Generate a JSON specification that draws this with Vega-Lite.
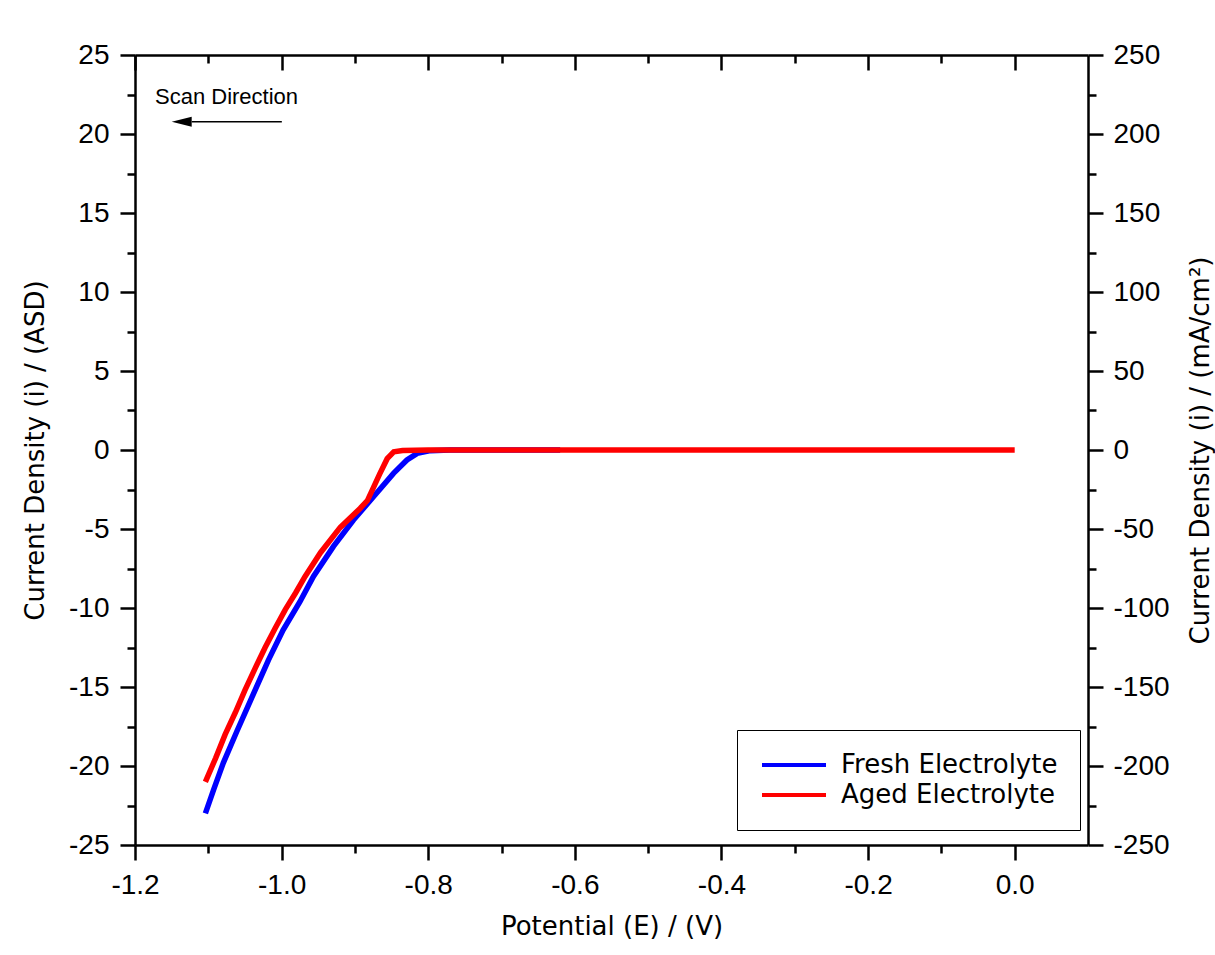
{
  "$schema": "https://vega.github.io/schema/vega-lite/v6.json",
  "width": 953,
  "height": 790,
  "autosize": "none",
  "padding": {"left": 135, "top": 55, "right": 127, "bottom": 110},
  "background": "white",
  "config": {
    "view": {"stroke": null},
    "axis": {
      "domainColor": "black", "tickColor": "black", "domainWidth": 2.5, "tickWidth": 2.5,
      "grid": false, "labelColor": "black", "titleColor": "black",
      "labelFont": "Liberation Sans", "labelFontSize": 28,
      "titleFont": "DejaVu Sans", "titleFontSize": 26, "titleFontWeight": "normal",
      "labelFlush": false, "labelOverlap": false, "labelBound": false
    }
  },
  "datasets": {
    "curves": [
      {"series": "Fresh Electrolyte", "E": -1.104, "i": -23.0},
      {"series": "Fresh Electrolyte", "E": -1.092, "i": -21.4},
      {"series": "Fresh Electrolyte", "E": -1.0795, "i": -19.8},
      {"series": "Fresh Electrolyte", "E": -1.061, "i": -17.8},
      {"series": "Fresh Electrolyte", "E": -1.041, "i": -15.7},
      {"series": "Fresh Electrolyte", "E": -1.018, "i": -13.3},
      {"series": "Fresh Electrolyte", "E": -0.998, "i": -11.4},
      {"series": "Fresh Electrolyte", "E": -0.975, "i": -9.6},
      {"series": "Fresh Electrolyte", "E": -0.9566, "i": -8.0},
      {"series": "Fresh Electrolyte", "E": -0.9293, "i": -6.1},
      {"series": "Fresh Electrolyte", "E": -0.902, "i": -4.43},
      {"series": "Fresh Electrolyte", "E": -0.8747, "i": -2.96},
      {"series": "Fresh Electrolyte", "E": -0.8474, "i": -1.48},
      {"series": "Fresh Electrolyte", "E": -0.829, "i": -0.63},
      {"series": "Fresh Electrolyte", "E": -0.815, "i": -0.21},
      {"series": "Fresh Electrolyte", "E": -0.797, "i": -0.04},
      {"series": "Fresh Electrolyte", "E": -0.77, "i": 0.0},
      {"series": "Fresh Electrolyte", "E": -0.62, "i": 0.0},
      {"series": "Aged Electrolyte", "E": -1.104, "i": -21.0},
      {"series": "Aged Electrolyte", "E": -1.09, "i": -19.5},
      {"series": "Aged Electrolyte", "E": -1.077, "i": -18.0},
      {"series": "Aged Electrolyte", "E": -1.063, "i": -16.6},
      {"series": "Aged Electrolyte", "E": -1.05, "i": -15.2},
      {"series": "Aged Electrolyte", "E": -1.036, "i": -13.8},
      {"series": "Aged Electrolyte", "E": -1.0225, "i": -12.5},
      {"series": "Aged Electrolyte", "E": -1.009, "i": -11.3},
      {"series": "Aged Electrolyte", "E": -0.995, "i": -10.1},
      {"series": "Aged Electrolyte", "E": -0.981, "i": -9.05},
      {"series": "Aged Electrolyte", "E": -0.968, "i": -8.0},
      {"series": "Aged Electrolyte", "E": -0.947, "i": -6.5},
      {"series": "Aged Electrolyte", "E": -0.92, "i": -4.9},
      {"series": "Aged Electrolyte", "E": -0.893, "i": -3.7},
      {"series": "Aged Electrolyte", "E": -0.883, "i": -3.2},
      {"series": "Aged Electrolyte", "E": -0.877, "i": -2.6},
      {"series": "Aged Electrolyte", "E": -0.866, "i": -1.5},
      {"series": "Aged Electrolyte", "E": -0.856, "i": -0.55},
      {"series": "Aged Electrolyte", "E": -0.847, "i": -0.12},
      {"series": "Aged Electrolyte", "E": -0.835, "i": -0.03},
      {"series": "Aged Electrolyte", "E": -0.8, "i": 0.0},
      {"series": "Aged Electrolyte", "E": -0.6, "i": 0.0},
      {"series": "Aged Electrolyte", "E": -0.4, "i": 0.0},
      {"series": "Aged Electrolyte", "E": -0.2, "i": 0.0},
      {"series": "Aged Electrolyte", "E": 0.0, "i": 0.0}
    ],
    "anchor": [{"E": -1.0, "i": 0}],
    "note": [{"E": -1.1727, "i": 21.9, "label": "Scan Direction"}],
    "arrow": [{"E": -1.1226, "E2": -0.9997, "i": 20.78}],
    "head": [{"E": -1.1363, "i": 20.78}]
  },
  "layer": [
    {
      "data": {"name": "curves"},
      "mark": {"type": "line", "strokeWidth": 5.5, "interpolate": "linear"},
      "encoding": {
        "x": {
          "field": "E", "type": "quantitative",
          "scale": {"domain": [-1.2, 0.1], "nice": false, "zero": false},
          "axis": {
            "orient": "bottom", "values": [-1.2, -1.0, -0.8, -0.6, -0.4, -0.2, 0.0],
            "labelExpr": "(datum.value < -0.0001 ? '-' : '') + format(abs(datum.value), '.1f')",
            "tickSize": 15, "labelPadding": 11, "domain": true,
            "title": "Potential (E) / (V)", "titlePadding": 14
          }
        },
        "y": {
          "field": "i", "type": "quantitative",
          "scale": {"domain": [-25, 25], "nice": false, "zero": false},
          "axis": {
            "orient": "left", "values": [-25, -20, -15, -10, -5, 0, 5, 10, 15, 20, 25],
            "labelExpr": "(datum.value < 0 ? '-' : '') + abs(datum.value)",
            "tickSize": 15, "labelPadding": 11, "domain": true,
            "title": "Current Density (i) / (ASD)", "titlePadding": 20
          }
        },
        "color": {
          "field": "series", "type": "nominal",
          "scale": {"domain": ["Fresh Electrolyte", "Aged Electrolyte"], "range": ["#0000ff", "#ff0000"]},
          "legend": {
            "orient": "none", "legendX": 602, "legendY": 675, "title": null,
            "symbolType": "M-1,0H5.4", "symbolSize": 400, "symbolStrokeWidth": 4,
            "labelFont": "DejaVu Sans", "labelFontSize": 26, "labelColor": "black", "labelLimit": 500,
            "labelOffset": 56, "strokeColor": "black", "fillColor": "white", "padding": 22,
            "rowPadding": 4
          }
        },
        "order": {"field": "series", "sort": "descending"}
      }
    },
    {
      "data": {"name": "anchor"},
      "mark": {"type": "point", "opacity": 0},
      "encoding": {
        "x": {"field": "E", "type": "quantitative",
          "axis": {"orient": "bottom", "values": [-1.1, -0.9, -0.7, -0.5, -0.3, -0.1], "tickSize": 8, "labels": false, "domain": false, "title": null}},
        "y": {"field": "i", "type": "quantitative",
          "axis": {"orient": "left", "values": [-22.5, -17.5, -12.5, -7.5, -2.5, 2.5, 7.5, 12.5, 17.5, 22.5], "tickSize": 8, "labels": false, "domain": false, "title": null}}
      }
    },
    {
      "data": {"name": "anchor"},
      "mark": {"type": "point", "opacity": 0},
      "encoding": {
        "x": {"field": "E", "type": "quantitative",
          "axis": {"orient": "top", "values": [-1.2, -1.0, -0.8, -0.6, -0.4, -0.2, 0.0], "tickSize": -15, "labels": false, "domain": true, "title": null}},
        "y": {"field": "i", "type": "quantitative",
          "axis": {
            "orient": "right", "values": [-25, -20, -15, -10, -5, 0, 5, 10, 15, 20, 25],
            "labelExpr": "(datum.value < 0 ? '-' : '') + abs(datum.value * 10)",
            "tickSize": 15, "labelPadding": 10, "domain": true,
            "title": "Current Density (i) / (mA/cm²)", "titleAngle": 270, "titlePadding": 44
          }}
      }
    },
    {
      "data": {"name": "anchor"},
      "mark": {"type": "point", "opacity": 0},
      "encoding": {
        "x": {"field": "E", "type": "quantitative",
          "axis": {"orient": "top", "values": [-1.1, -0.9, -0.7, -0.5, -0.3, -0.1], "tickSize": -8, "labels": false, "domain": false, "title": null}},
        "y": {"field": "i", "type": "quantitative",
          "axis": {"orient": "right", "values": [-22.5, -17.5, -12.5, -7.5, -2.5, 2.5, 7.5, 12.5, 17.5, 22.5], "tickSize": 8, "labels": false, "domain": false, "title": null}}
      }
    },
    {
      "data": {"name": "note"},
      "mark": {"type": "text", "font": "Liberation Sans", "fontSize": 22, "align": "left", "baseline": "alphabetic", "color": "black"},
      "encoding": {
        "x": {"field": "E", "type": "quantitative", "axis": null},
        "y": {"field": "i", "type": "quantitative", "axis": null},
        "text": {"field": "label"}
      }
    },
    {
      "data": {"name": "arrow"},
      "mark": {"type": "rule", "color": "black", "strokeWidth": 1.5},
      "encoding": {
        "x": {"field": "E", "type": "quantitative", "axis": null},
        "x2": {"field": "E2"},
        "y": {"field": "i", "type": "quantitative", "axis": null}
      }
    },
    {
      "data": {"name": "head"},
      "mark": {"type": "point", "shape": "M-1,0L1,-0.5L1,0.5Z", "size": 400, "filled": true, "color": "black", "opacity": 1},
      "encoding": {
        "x": {"field": "E", "type": "quantitative", "axis": null},
        "y": {"field": "i", "type": "quantitative", "axis": null}
      }
    }
  ],
  "resolve": {"axis": {"x": "independent", "y": "independent"}}
}
